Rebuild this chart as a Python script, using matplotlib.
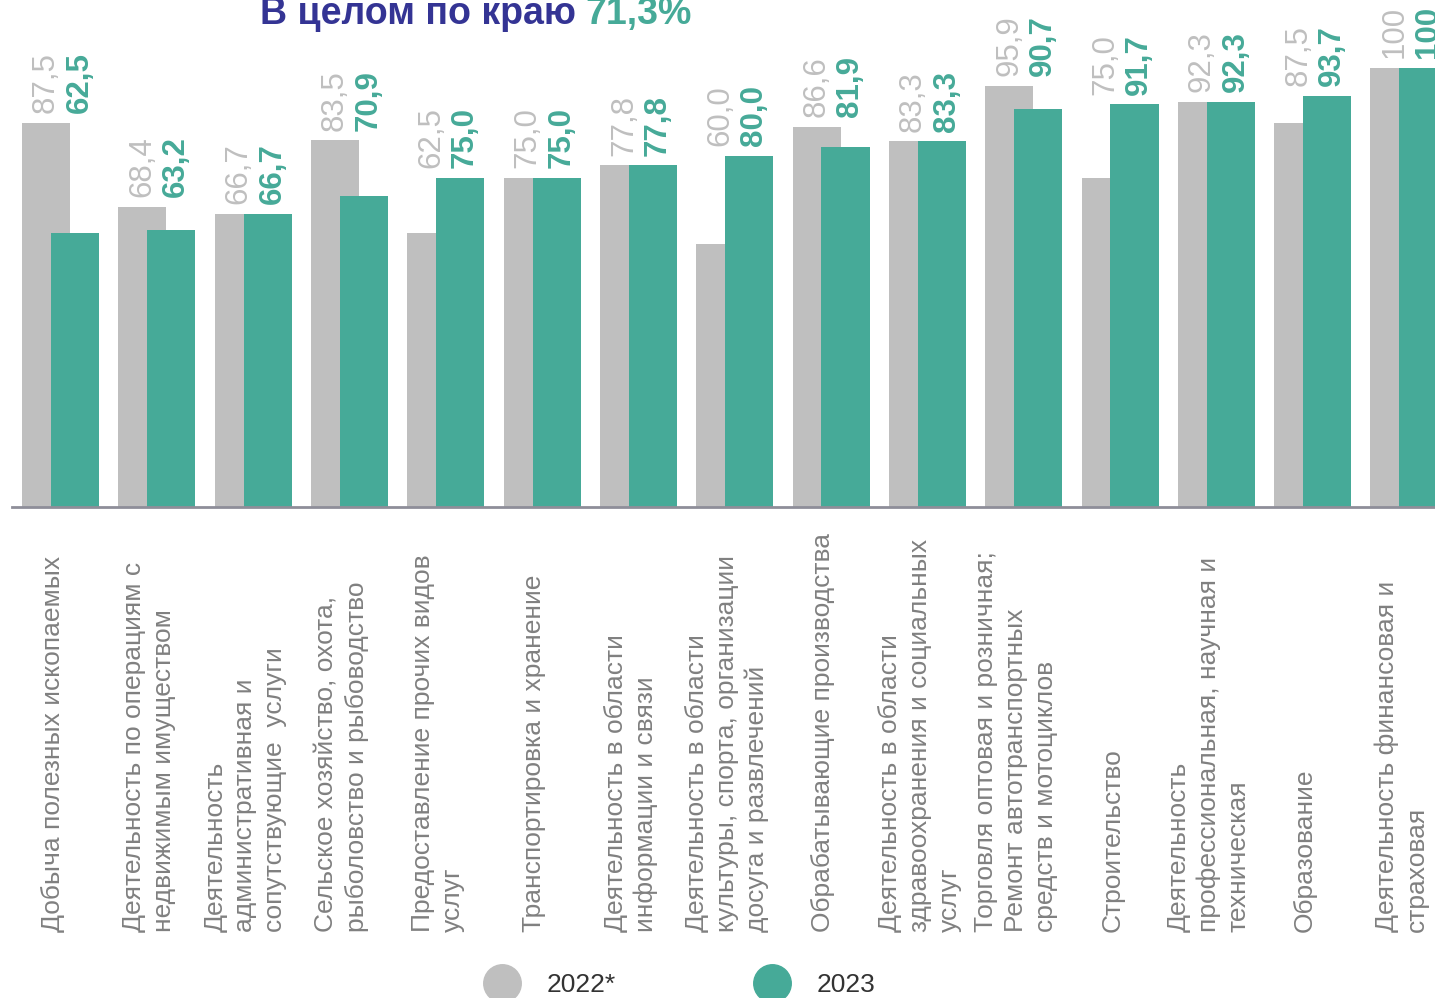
import numpy as np
import matplotlib
matplotlib.use('Agg')
import matplotlib.pyplot as plt
from matplotlib.lines import Line2D
import matplotlib.transforms as mtransforms

plt.rcParams['font.family'] = ['Liberation Sans', 'DejaVu Sans']

# Data
categories = [
    'Добыча полезных ископаемых',
    'Деятельность по операциям с\nнедвижимым имуществом',
    'Деятельность\nадминистративная и\nсопутствующие  услуги',
    'Сельское хозяйство, охота,\nрыболовство и рыбоводство',
    'Предоставление прочих видов\nуслуг',
    'Транспортировка и хранение',
    'Деятельность в области\nинформации и связи',
    'Деятельность в области\nкультуры, спорта, организации\nдосуга и развлечений',
    'Обрабатывающие производства',
    'Деятельность в области\nздравоохранения и социальных\nуслуг',
    'Торговля оптовая и розничная;\nРемонт автотранспортных\nсредств и мотоциклов',
    'Строительство',
    'Деятельность\nпрофессиональная, научная и\nтехническая',
    'Образование',
    'Деятельность финансовая и\nстраховая',
]
values_2022 = [87.5, 68.4, 66.7, 83.5, 62.5, 75.0, 77.8, 60.0, 86.6, 83.3, 95.9, 75.0, 92.3, 87.5, 100]
values_2023 = [62.5, 63.2, 66.7, 70.9, 75.0, 75.0, 77.8, 80.0, 81.9, 83.3, 90.7, 91.7, 92.3, 93.7, 100]
series_names = ['2022*', '2023']
total_text = 'В целом по краю'
total_value = '71,3%'

GRAY = '#BFBFBF'
TEAL = '#46AA98'
NAVY = '#343494'
LABEL = '#808080'

def fmt(v):
    if v == 100:
        return '100'
    return f'{v:.1f}'.replace('.', ',')

fig = plt.figure(figsize=(14.35, 9.98), dpi=100)
ax = fig.add_axes([12 / 1435, 491 / 998, 1 - 12 / 1435, 507 / 998])

x = np.arange(len(categories))
w = 0.5
ax.bar(x - 0.15, values_2022, w, color=GRAY, zorder=1)
ax.bar(x + 0.15, values_2023, w, color=TEAL, zorder=2)

ax.set_xlim(-0.504, 14.27)
ax.set_ylim(0, 115.5)

# value labels above the taller bar of each group
for i in range(len(categories)):
    top = max(values_2022[i], values_2023[i])
    ax.annotate(fmt(values_2022[i]), (x[i] - 0.15, top), xytext=(0, 7),
                textcoords='offset points', rotation=90, ha='center', va='bottom',
                fontsize=22.5, color=GRAY, annotation_clip=False)
    ax.annotate(fmt(values_2023[i]), (x[i] + 0.2, top), xytext=(0, 7),
                textcoords='offset points', rotation=90, ha='center', va='bottom',
                fontsize=22.5, color=TEAL, fontweight='bold', annotation_clip=False)

# category labels, starting at a common line below the axis
trans = mtransforms.blended_transform_factory(ax.transData, fig.transFigure)
for i, cat in enumerate(categories):
    ax.text(x[i] - 0.08, 66 / 998, cat, transform=trans, rotation=90,
            rotation_mode='anchor', ha='left', va='center', fontsize=19,
            color=LABEL, linespacing=1.3, clip_on=False)

for s in ['top', 'right', 'left']:
    ax.spines[s].set_visible(False)
ax.spines['bottom'].set_color('#8E8E99')
ax.spines['bottom'].set_linewidth(2)
ax.set_yticks([])
ax.set_xticks([])

# title in two colours
fig.text(260 / 1435, 1 - 24 / 998, total_text, color=NAVY, fontsize=27,
         fontweight='bold', va='baseline', ha='left')
fig.text(585 / 1435, 1 - 24 / 998, total_value, color=TEAL, fontsize=27,
         fontweight='bold', va='baseline', ha='left')

handles = [Line2D([], [], marker='o', ls='', color=GRAY, markersize=27),
           Line2D([], [], marker='o', ls='', color=TEAL, markersize=27)]
fig.legend(handles, series_names, loc='center left', ncol=2,
           bbox_to_anchor=(483 / 1435, 1 - 985 / 998), frameon=False,
           fontsize=19, labelcolor='#333333', handlelength=1.45,
           handletextpad=0.95, columnspacing=5.2, borderpad=0, borderaxespad=0)

fig.savefig('out.png', dpi=100)
